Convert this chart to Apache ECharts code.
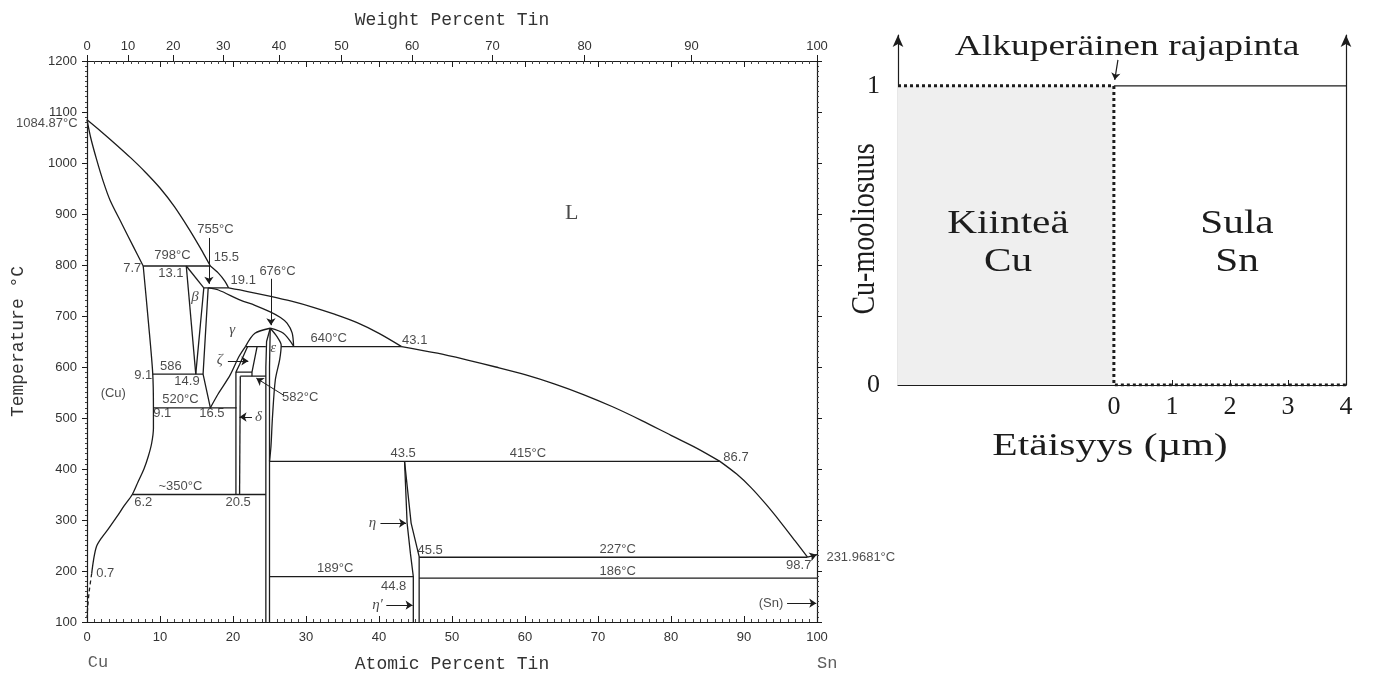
<!DOCTYPE html>
<html><head><meta charset="utf-8">
<script src="https://cdn.jsdelivr.net/npm/echarts@6/dist/echarts.min.js"></script>
<style>html,body{margin:0;padding:0;background:#fff}#c{width:1397px;height:673px}</style>
</head><body><div id="c"></div>
<script>
// ===== Cu–Sn phase diagram data (atomic % Sn, °C) =====
const weightTicks = [0,10,20,30,40,50,60,70,80,90,100];
const liquidusCu = [[0,1084.87],[2,1061],[4,1036],[6,1010],[8,982],[10,951],[12,914],[14,870],[15.5,834],[16.9,798]];
const liquidusBeta = [[16.9,798],[18.0,784],[18.9,768],[19.4,755]];
const liquidusGamma = [[19.4,755],[22,748],[25,739],[28,729],[31,717],[34,703],[37,687],[40,666],[43.1,640]];
const liquidusEps = [[43.1,640],[48,627],[52,614],[56,600],[60,585],[64,567],[68,546],[72,522],[76,495],[80,466],[83.5,441],[86.7,415]];
const liquidusEta = [[86.7,415],[89,390],[91,363],[93,331],[95,296],[97,259],[98.7,227]];
const liquidusSn = [[98.7,227],[100,231.9681]];
const solidusCu = [[0,1084.87],[0.5,1050],[1.33,1006],[2.2,965],[3.16,927],[4.8,880],[6.35,836],[7.7,798]];
const solvusCu = [[7.7,798],[8.4,690],[9.0,588],[9.1,520],[9.1,480],[8.85,450],[8.4,425],[7.8,400],[7.0,375],[6.2,350],[5.1,328],[4.07,306],[2.9,282],[2.0,265],[1.3,248],[0.9,222],[0.64,195]];
const solvusCuDashed = [[0.64,195],[0.3,160],[0.1,130],[0,110]];
const betaLeft = [[13.6,798],[14.9,586]];
const betaTop = [[13.6,798],[16.0,755]];
const betaRight = [[16.0,755],[14.9,586]];
const gammaLeft = [[16.6,755],[15.9,586],[16.9,520]];
const gammaRight = [[16.9,520],[18.0,548],[19.6,584],[20.8,620],[21.7,640]];
const gammaSolidus = [[16.6,755],[18,751],[21,731],[23,721],[25.1,708],[26.5,697],[27.4,686],[28.1,667],[28.3,641]];
const domeLeft = [[21.7,640],[23.0,666],[25.1,676]];
const domeRight = [[25.1,676],[26.9,666],[28.3,641]];
const zetaLeft = [[22.0,640],[20.9,605],[20.4,590]];
const zetaRight = [[23.3,640],[22.6,590],[22.6,582]];
const deltaLeft = [[20.4,590],[20.4,350]];
const deltaRight = [[21.0,582],[20.9,350]];
const epsLeft = [[25.1,676],[24.6,650],[24.5,600],[24.5,100]];
const epsMid = [[25.1,676],[25.0,600],[25.0,100]];
const epsRight = [[25.1,676],[26.0,660],[26.6,643],[26.4,615],[25.8,575],[25.4,500],[25.2,444],[25.0,415]];
const etaLeft = [[43.5,415],[43.85,294],[44.3,235],[44.7,189],[44.7,100]];
const etaRight = [[43.5,415],[44.4,294],[45.5,228],[45.5,100]];
const isotherms = [
  [[7.7,798],[16.9,798]], [[16.0,755],[19.4,755]], [[21.7,640],[24.5,640]], [[26.6,640],[43.1,640]],
  [[20.4,590],[22.6,590]], [[9.0,586],[15.9,586]], [[21.0,582],[24.5,582]], [[9.1,520],[20.5,520]],
  [[25.0,415],[86.7,415]], [[6.2,350],[24.5,350]], [[45.5,227],[98.7,227]], [[25.0,189],[44.7,189]],
  [[45.5,186],[100,186]]
];
// annotations: [text, at% Sn, °C, kind]
const annotations = [
  ['755°C',17.6,869,'n'],['798°C',11.7,818,'n'],['15.5',19.1,814,'n'],['7.7',6.2,794,'n'],['13.1',11.5,784,'n'],
  ['19.1',21.4,769,'n'],['676°C',26.1,788,'n'],['β',14.8,737,'g'],['γ',19.9,673,'g'],['L',66.4,902,'L'],
  ['640°C',33.1,657,'n'],['43.1',44.9,653,'n'],['ε',25.5,637,'g'],['ζ',18.2,614,'g'],['9.1',7.7,584,'n'],
  ['586',11.5,602,'n'],['14.9',13.7,571,'n'],['(Cu)',3.6,549,'n'],['520°C',12.8,537,'n'],['582°C',29.2,541,'n'],
  ['9.1',10.3,508,'n'],['16.5',17.1,508,'n'],['δ',23.5,502,'g'],['43.5',43.3,431,'n'],['415°C',60.4,431,'n'],
  ['86.7',88.9,422,'n'],['~350°C',12.8,365,'n'],['6.2',7.7,335,'n'],['20.5',20.7,335,'n'],['η',39.1,294,'g'],
  ['45.5',47.0,241,'n'],['227°C',72.7,243,'n'],['98.7',97.5,210,'n'],['231.9681°C',106.0,227,'n'],
  ['189°C',34.0,206,'n'],['186°C',72.7,200,'n'],['44.8',42.0,169,'n'],['η′',39.8,133,'g'],['0.7',2.5,196,'n'],
  ['(Sn)',93.7,137,'n'],['1084.87°C',-5.5,1077,'n'],['Cu',1.5,20,'m'],['Sn',101.4,18,'m']
];
const arrows = [
  [[16.7,853],[16.7,763]], [[25.2,773],[25.2,682]], [[19.3,612],[22.1,612]], [[26.9,545],[23.2,578]],
  [[22.6,502],[20.9,502]], [[40.2,294],[43.7,294]], [[41.0,133],[44.6,133]], [[95.9,137],[99.9,137]],
  [[99.2,228.5],[99.95,232]]
];
// ===== diffusion schematic data =====
const distTicks = [0,1,2,3,4];
const distMinorTicks = [1,2,3];
const fracTicks = [0,1];
const solidRegion = [[-3.72,1],[0,1]];
const cuProfile = [[-3.72,1],[0,1],[0,0],[4,0]];
const snTop = [[0,1],[4,1]];
const interfaceArrow = [[[0.07,1.087],[0.015,1.02]]];

// ===== build =====
const toAtomic = w => { const s = w/118.71, c = (100-w)/63.546; return 100*s/(s+c); };
const wtPos = weightTicks.map(toAtomic);
const INK = '#1c1c1c';
const SANS = 'Liberation Sans', SERIF = 'Liberation Serif', MONO = 'Liberation Mono';

function bnd(data, smooth, dashed) {
  return {type:'line', xAxisIndex:0, yAxisIndex:0, data, showSymbol:false, symbol:'none',
    smooth: smooth ? 0.3 : false, silent:true, z:3, animation:false,
    lineStyle:{color:INK, width:1.3, type: dashed ? [4,3] : 'solid'}};
}
const series = [];
[liquidusCu, liquidusBeta, liquidusGamma, liquidusEps, liquidusEta, solidusCu, solvusCu,
 gammaRight, gammaSolidus, domeLeft, domeRight, epsRight].forEach(d => series.push(bnd(d, true)));
[liquidusSn, betaLeft, betaTop, betaRight, gammaLeft, zetaLeft, zetaRight, deltaLeft, deltaRight,
 epsLeft, epsMid, etaLeft, etaRight].forEach(d => series.push(bnd(d, false)));
isotherms.forEach(d => series.push(bnd(d, false)));
series.push(bnd(solvusCuDashed, true, true));

const labelStyle = k => {
  if (k === 'g') return {fontFamily:SERIF, fontStyle:'italic', fontSize:15, color:INK};
  if (k === 'L') return {fontFamily:SERIF, fontSize:22, color:INK};
  if (k === 'm') return {fontFamily:MONO, fontSize:17, color:'#333'};
  return {fontFamily:SANS, fontSize:13, color:INK};
};
series.push({type:'scatter', xAxisIndex:0, yAxisIndex:0, symbolSize:0, silent:true, clip:false, z:6, animation:false,
  label:{show:true, position:'inside', formatter:'{b}'},
  data: annotations.map(a => ({name:a[0], value:[a[1], a[2]], label:labelStyle(a[3])}))});
series.push({type:'lines', coordinateSystem:'cartesian2d', xAxisIndex:0, yAxisIndex:0, silent:true, z:5, animation:false,
  symbol:['none','arrow'], symbolSize:7, lineStyle:{color:INK, width:1, opacity:1},
  data: arrows.map(c => ({coords:c}))});

// right schematic
series.push({type:'line', xAxisIndex:3, yAxisIndex:2, data:solidRegion, showSymbol:false, symbol:'none', silent:true, z:1,
  lineStyle:{width:0}, areaStyle:{color:'#efefef', opacity:1}, animation:false});
series.push({type:'line', xAxisIndex:3, yAxisIndex:2, data:snTop, showSymbol:false, symbol:'none', silent:true, z:2,
  lineStyle:{color:INK, width:1.2}, animation:false});
series.push({type:'line', xAxisIndex:3, yAxisIndex:2, data:cuProfile, showSymbol:false, symbol:'none', silent:true, z:4,
  lineStyle:{color:INK, width:3, type:[3,3]}, animation:false});
series.push({type:'lines', coordinateSystem:'cartesian2d', xAxisIndex:3, yAxisIndex:2, silent:true, z:5, animation:false,
  symbol:['none','arrow'], symbolSize:7, lineStyle:{color:INK, width:1.2, opacity:1},
  data: interfaceArrow.map(c => ({coords:c}))});

const axLine = {onZero:false, lineStyle:{color:INK, width:1.2}};
const tickLab = {fontFamily:SANS, fontSize:13, color:'#333', formatter: v => String(v)};
const gtext = (text, x, y, size, sx) => ({type:'text', x, y, scaleX:sx, z:100, silent:true,
  style:{text, font:size + 'px "Liberation Serif"', fill:INK, align:'center', verticalAlign:'middle'}});
const option = {
  backgroundColor:'#fff',
  animation:false,
  grid:[
    {left:87, top:61, width:730, height:561, outerBoundsMode:'none'},
    {left:898, top:35, width:448, height:350, outerBoundsMode:'none'}
  ],
  xAxis:[
    {gridIndex:0, type:'value', min:0, max:100, interval:10, position:'bottom',
      name:'Atomic Percent Tin', nameLocation:'middle', nameGap:33,
      nameTextStyle:{fontFamily:MONO, fontSize:18, color:'#333'},
      axisLine:axLine, axisTick:{inside:true, length:6, lineStyle:{color:INK}},
      minorTick:{show:true, splitNumber:10, length:3, lineStyle:{color:'#444'}},
      axisLabel:Object.assign({}, tickLab, {margin:9}), splitLine:{show:false}},
    {gridIndex:0, type:'value', min:0, max:100, interval:10, position:'top',
      axisLine:axLine, axisTick:{inside:true, length:6, lineStyle:{color:INK}},
      minorTick:{show:true, splitNumber:10, length:3, lineStyle:{color:'#444'}},
      axisLabel:{show:false}, splitLine:{show:false}},
    {gridIndex:0, type:'value', min:0, max:100, position:'top',
      name:'Weight Percent Tin', nameLocation:'middle', nameGap:32,
      nameTextStyle:{fontFamily:MONO, fontSize:18, color:'#333'},
      axisLine:{show:false}, axisTick:{show:true, customValues:wtPos, inside:false, length:6, lineStyle:{color:INK}},
      axisLabel:Object.assign({}, tickLab, {customValues:wtPos, margin:8, formatter: v => {
        let b = 0; wtPos.forEach((p,i) => { if (Math.abs(p-v) < Math.abs(wtPos[b]-v)) b = i; });
        return String(weightTicks[b]); }}),
      splitLine:{show:false}},
    {gridIndex:1, type:'value', min:-3.72, max:4, position:'bottom',
      axisLine:axLine, axisTick:{show:true, customValues:distMinorTicks, inside:true, length:5, lineStyle:{color:INK}},
      axisLabel:{customValues:distTicks, margin:9, fontFamily:SERIF, fontSize:26, color:INK},
      splitLine:{show:false}}
  ],
  yAxis:[
    {gridIndex:0, type:'value', min:100, max:1200, interval:100, position:'left',
      name:'Temperature °C', nameLocation:'middle', nameGap:60, nameRotate:90,
      nameTextStyle:{fontFamily:MONO, fontSize:18, color:'#333'},
      axisLine:axLine, axisTick:{inside:false, length:5, lineStyle:{color:INK}},
      minorTick:{show:true, splitNumber:10, length:2, lineStyle:{color:'#444'}},
      axisLabel:Object.assign({}, tickLab, {margin:10}), splitLine:{show:false}},
    {gridIndex:0, type:'value', min:100, max:1200, interval:100, position:'right',
      axisLine:axLine, axisTick:{inside:false, length:5, lineStyle:{color:INK}},
      minorTick:{show:true, splitNumber:10, length:2, lineStyle:{color:'#444'}},
      axisLabel:{show:false}, splitLine:{show:false}},
    {gridIndex:1, type:'value', min:0, max:1.17, position:'left',
      axisLine:{onZero:false, symbol:['none','arrow'], symbolSize:[8,12], lineStyle:{color:INK, width:1.2}},
      axisTick:{show:false},
      axisLabel:{customValues:fracTicks, margin:18, fontFamily:SERIF, fontSize:26, color:INK},
      splitLine:{show:false}},
    {gridIndex:1, type:'value', min:0, max:1.17, position:'right',
      axisLine:{onZero:false, symbol:['none','arrow'], symbolSize:[8,12], lineStyle:{color:INK, width:1.2}},
      axisTick:{show:false}, axisLabel:{show:false}, splitLine:{show:false}}
  ],
  graphic:[
    gtext('Alkuperäinen rajapinta', 1127, 47, 30, 1.25),
    gtext('Kiinteä', 1008, 224, 33, 1.25),
    gtext('Cu', 1008, 262, 33, 1.25),
    gtext('Sula', 1237, 224, 33, 1.25),
    gtext('Sn', 1237, 262, 33, 1.25),
    gtext('Etäisyys (µm)', 1110, 447, 32, 1.3),
    {type:'text', x:865, y:229, rotation:Math.PI/2, scaleY:1.2, z:100, silent:true,
      style:{text:'Cu-mooliosuus', font:'28px "Liberation Serif"', fill:INK, align:'center', verticalAlign:'middle'}}
  ],
  series
};
const chart = echarts.init(document.getElementById('c'), null, {renderer:'canvas'});
chart.setOption(option);
</script>
</body></html>
